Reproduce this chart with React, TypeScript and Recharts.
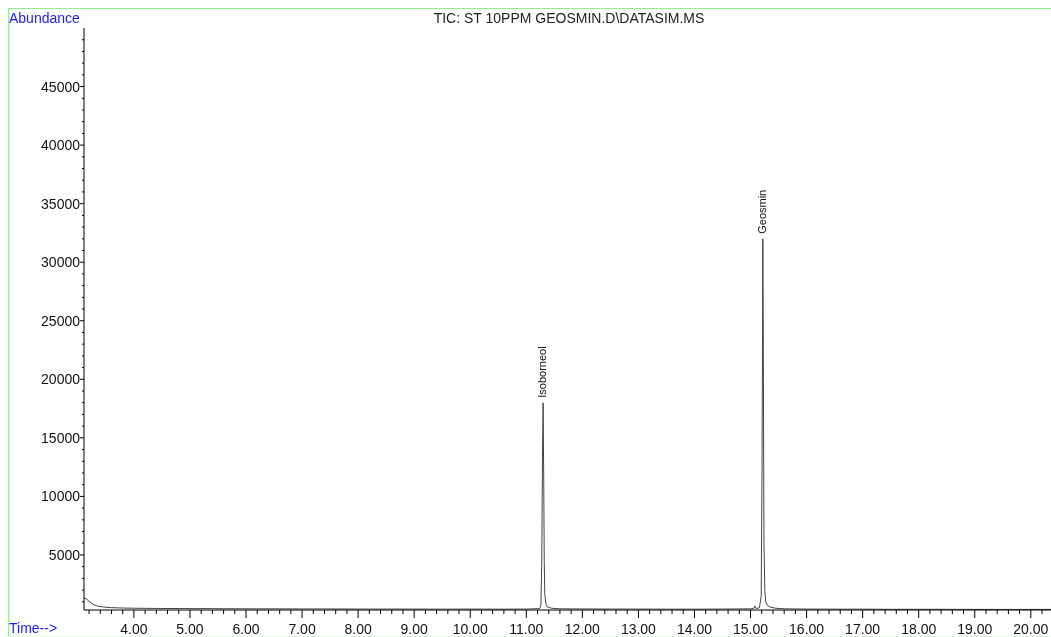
import { LineChart, Line, XAxis, YAxis, ReferenceDot } from "recharts";

// retention time (min) and TIC abundance
const times = [
  3.11, 3.15, 3.2, 3.25, 3.3, 3.35, 3.45, 3.6, 3.8, 4.0, 4.5, 5.0, 5.5, 6.0, 6.5, 7.0,
  7.5, 8.0, 8.5, 9.0, 9.5, 10.0, 10.5, 11.0, 11.24, 11.26, 11.275, 11.29, 11.3, 11.31,
  11.32, 11.33, 11.35, 11.38, 11.45, 11.6, 12.0, 12.5, 13.0, 13.5, 14.0, 14.5, 15.0,
  15.06, 15.08, 15.1, 15.16, 15.19, 15.205, 15.22, 15.23, 15.24, 15.255, 15.27, 15.3,
  15.35, 15.45, 15.6, 16.0, 16.5, 17.0, 17.5, 18.0, 18.5, 19.0, 19.5, 20.0, 20.36,
];
const abundance = [
  1330, 1250, 1050, 850, 720, 640, 560, 500, 470, 450, 430, 420, 410, 400, 400, 390,
  390, 380, 380, 380, 370, 380, 370, 380, 420, 700, 4000, 14000, 18000, 12000,
  4500, 1600, 800, 550, 450, 400, 390, 380, 380, 370, 370, 380, 400,
  450, 650, 420, 500, 1500, 12000, 32000, 20000, 6000, 2000, 1000, 700,
  550, 450, 400, 380, 370, 370, 360, 360, 360, 350, 350, 350, 350,
];

const peakNames = ["Isoborneol", "Geosmin"];
const peakTimes = [11.3, 15.22];
const peakHeights = [18000, 32000];

const majorX = [4, 5, 6, 7, 8, 9, 10, 11, 12, 13, 14, 15, 16, 17, 18, 19, 20];
const title = "TIC: ST 10PPM GEOSMIN.D\\DATASIM.MS";

const data = times.map((t, i) => ({ t, v: abundance[i] }));

const xTicks: number[] = [];
for (let k = 0; k <= 85; k++) xTicks.push(Math.round((3.2 + 0.2 * k) * 100) / 100);
const yTicks: number[] = [];
for (let v = 1000; v <= 49000; v += 1000) yTicks.push(v);

const font = "'Liberation Sans', Arial, sans-serif";

function XTick(props: any) {
  const { x, y, payload } = props;
  const major = majorX.includes(payload.value);
  return (
    <g>
      <line x1={x} x2={x} y1={y} y2={y + (major ? 8 : 4)} stroke="#000" />
      {major && (
        <text x={x} y={y + 19} textAnchor="middle" dominantBaseline="central" fontSize={14} fill="#111">
          {payload.value.toFixed(2)}
        </text>
      )}
    </g>
  );
}

function YTick(props: any) {
  const { x, y, payload } = props;
  const major = payload.value % 5000 === 0;
  return (
    <g>
      <line x1={x} x2={x - (major ? 4 : 2)} y1={y} y2={y} stroke="#000" />
      {major && (
        <text x={x - 4} y={y} textAnchor="end" dominantBaseline="central" fontSize={14} fill="#111">
          {payload.value}
        </text>
      )}
    </g>
  );
}

function PeakLabel(name: string) {
  return (props: any) => {
    const { cx, cy } = props;
    const y = cy - 5;
    return (
      <text
        x={cx - 1}
        y={y}
        transform={`rotate(-90 ${cx - 1} ${y})`}
        textAnchor="start"
        dominantBaseline="central"
        fontSize={11}
        fill="#111"
      >
        {name}
      </text>
    );
  };
}

export default function App() {
  return (
    <div
      style={{
        position: "fixed",
        left: 8,
        top: 8,
        width: 1043,
        height: 629,
        borderLeft: "1px solid #8ef08e",
        borderTop: "1px solid #8ef08e",
        borderBottom: "1px solid #e0fbe0",
        fontFamily: font,
        boxSizing: "border-box",
        overflow: "hidden",
      }}
    >
      <LineChart
        width={1042}
        height={627}
        data={data}
        margin={{ top: 19, right: 0, left: 0, bottom: 0 }}
        style={{ fontFamily: font }}
      >
        <XAxis
          dataKey="t"
          type="number"
          domain={[3.11, 20.36]}
          ticks={xTicks}
          interval={0}
          tickSize={0}
          tickMargin={0}
          tick={<XTick />}
          height={26}
          axisLine={{ stroke: "#000" }}
          allowDataOverflow
        />
        <YAxis
          type="number"
          domain={[300, 50000]}
          ticks={yTicks}
          interval={0}
          tickSize={0}
          tickMargin={0}
          tick={<YTick />}
          width={75}
          axisLine={{ stroke: "#000" }}
          allowDataOverflow
        />
        <Line
          type="linear"
          dataKey="v"
          stroke="#444"
          strokeWidth={1}
          dot={false}
          isAnimationActive={false}
        />
        {peakNames.map((name, i) => (
          <ReferenceDot
            key={name}
            x={peakTimes[i]}
            y={peakHeights[i]}
            r={0}
            ifOverflow="visible"
            shape={PeakLabel(name)}
          />
        ))}
      </LineChart>
      <div style={{ position: "absolute", left: 0, top: 1, fontSize: 14, color: "#1a1aff", lineHeight: "16px" }}>
        Abundance
      </div>
      <div
        style={{
          position: "absolute",
          left: 0,
          right: 0,
          top: 1,
          paddingLeft: 78,
          textAlign: "center",
          fontSize: 14,
          color: "#222",
          lineHeight: "16px",
        }}
      >
        {title}
      </div>
      <div style={{ position: "absolute", left: 0, top: 611, fontSize: 14, color: "#1a1aff", lineHeight: "16px" }}>
        Time--&gt;
      </div>
    </div>
  );
}
